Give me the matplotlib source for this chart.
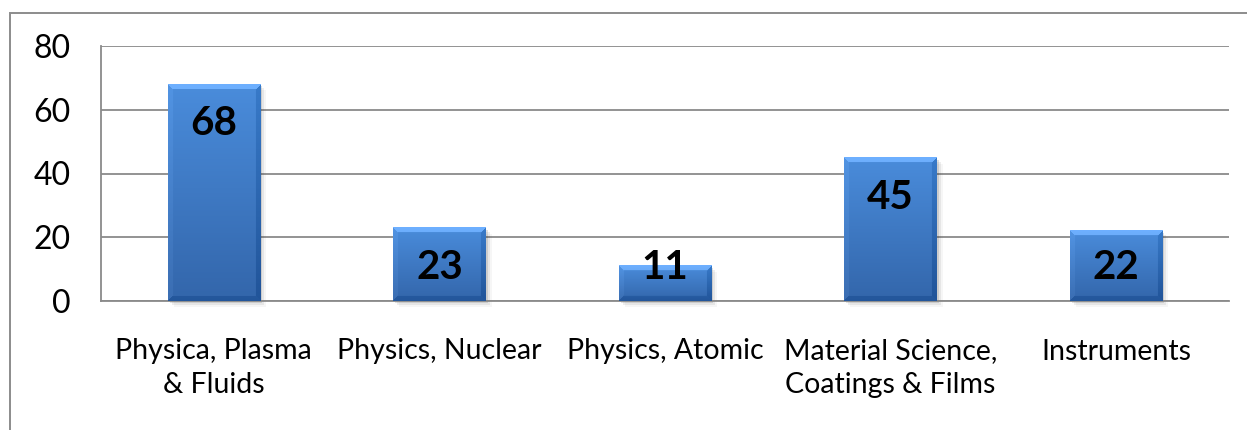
import numpy as np
import matplotlib
matplotlib.use("Agg")
import matplotlib.pyplot as plt
from matplotlib.patches import Rectangle
from matplotlib.transforms import ScaledTranslation

categories = ["Physica, Plasma\n& Fluids", "Physics, Nuclear", "Physics, Atomic",
              "Material Science,\nCoatings & Films", "Instruments"]
values = [68, 23, 11, 45, 22]
yticks = [0, 20, 40, 60, 80]

plt.rcParams["font.family"] = ["Lato", "DejaVu Sans"]

W, H, DPI = 1247, 430, 100
fig = plt.figure(figsize=(W / DPI, H / DPI), dpi=DPI)
ax = fig.add_axes([101 / W, 1 - 301 / H, (1229 - 101) / W, (301 - 46) / H])

# outer chart border (runs off the right and bottom edges)
fig.patches.append(Rectangle((10 / W, -0.2), 1.2, 1.2 - 13 / H,
                             transform=fig.transFigure, fill=False,
                             edgecolor="#8c8c8c", linewidth=1.4, zorder=0))

x = np.arange(len(values))
ax.set_xlim(-0.5, len(values) - 0.5)
ax.set_ylim(0, 80)
ax.set_autoscale_on(False)

grid_c = "#8a8a8a"
ax.set_yticks(yticks)
ax.set_yticklabels([str(t) for t in yticks], fontsize=23)
ax.set_xticks(x)
ax.set_xticklabels(categories, fontsize=20.5, linespacing=1.38)
ax.tick_params(axis="both", length=0, colors="#000000")
ax.tick_params(axis="y", pad=22)
ax.tick_params(axis="x", pad=27)
ax.yaxis.grid(True, color=grid_c, linewidth=1.3)
ax.set_axisbelow(True)
for s in ["top", "right"]:
    ax.spines[s].set_visible(False)
for s in ["left", "bottom"]:
    ax.spines[s].set_color(grid_c)
    ax.spines[s].set_linewidth(1.3)

bars = ax.bar(x, values, width=0.41, color="none", edgecolor="none", zorder=3)

fig.canvas.draw()
top_c = np.array([0.29, 0.55, 0.86])
bot_c = np.array([0.20, 0.40, 0.67])
bevel = 5
for rect in bars:
    x0, y0 = rect.get_x(), rect.get_y()
    w, h = rect.get_width(), rect.get_height()
    (px0, py0), (px1, py1) = ax.transData.transform([(x0, y0), (x0 + w, y0 + h)])
    wp, hp = max(int(round(px1 - px0)), 2), max(int(round(py1 - py0)), 2)
    rows = np.arange(hp)[:, None]
    cols = np.arange(wp)[None, :]
    t = rows / max(hp - 1, 1)
    base = top_c[None, None, :] * (1 - t[..., None]) + bot_c[None, None, :] * t[..., None]
    img = np.repeat(base, wp, axis=1)
    d = np.stack([rows + 0 * cols, (hp - 1 - rows) + 0 * cols,
                  cols + 0 * rows, (wp - 1 - cols) + 0 * rows])
    m = d.min(axis=0)
    side = d.argmin(axis=0)
    adj = np.array([0.14, -0.06, 0.03, -0.07])
    shade = np.where(m < bevel, adj[side], 0.0)
    img = np.clip(img + shade[..., None], 0, 1)
    # soft drop shadow below and to the right
    dx, dy = ax.transData.inverted().transform((px0 + 2, py0 - 2)) - np.array([x0, y0])
    for k, a in enumerate([0.14, 0.08, 0.04]):
        ax.add_patch(Rectangle((x0 + dx * (k + 1), y0 + dy * (k + 1)), w, h,
                               facecolor="#303030", edgecolor="none", alpha=a,
                               zorder=2, clip_on=False))
    ax.imshow(img, extent=(x0, x0 + w, y0, y0 + h), aspect="auto",
              interpolation="bilinear", zorder=3)

offset = ScaledTranslation(0, -14.5 / DPI, fig.dpi_scale_trans)
for xi, v in zip(x, values):
    ax.text(xi, max(v - 11.5, 11.5), str(v), ha="center", va="baseline",
            fontsize=29, fontweight="bold", color="black", zorder=5,
            transform=ax.transData + offset)

ax.set_xlim(-0.5, len(values) - 0.5)
ax.set_ylim(0, 80)
fig.savefig("out.png", dpi=DPI)
